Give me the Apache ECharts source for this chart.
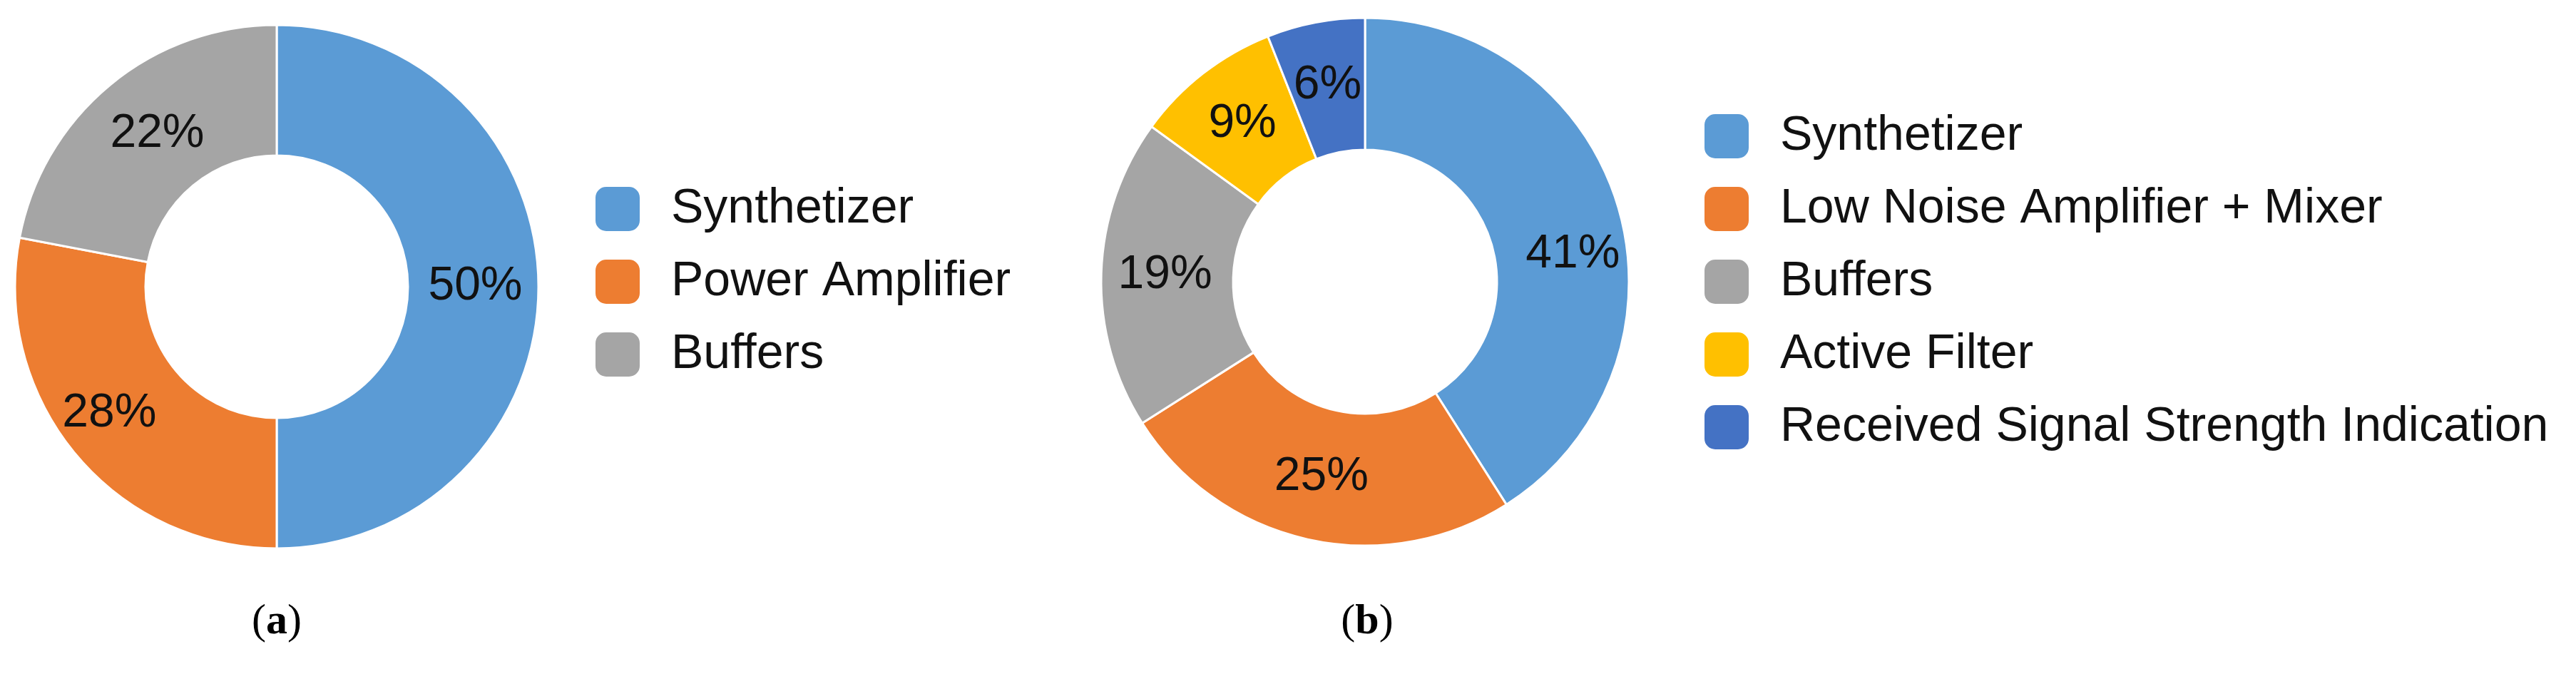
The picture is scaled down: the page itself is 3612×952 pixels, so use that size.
<!DOCTYPE html>
<html><head><meta charset="utf-8">
<script src="https://cdn.jsdelivr.net/npm/echarts@6/dist/echarts.min.js"></script>
<style>html,body{margin:0;padding:0;background:#fff}#c{width:3612px;height:952px}</style>
</head><body><div id="c"></div>
<script>
const categoriesA = ['Synthetizer', 'Power Amplifier', 'Buffers'];
const valuesA = [50, 28, 22];
const categoriesB = ['Synthetizer', 'Low Noise Amplifier + Mixer', 'Buffers', 'Active Filter', 'Received Signal Strength Indication'];
const valuesB = [41, 25, 19, 9, 6];
const captions = ['a', 'b'];
const colorsA = ['#5B9BD5', '#ED7D31', '#A5A5A5'];
const colorsB = ['#5B9BD5', '#ED7D31', '#A5A5A5', '#FFC000', '#4472C4'];

const FONT = 'Liberation Sans, Arial, sans-serif';
const chart = echarts.init(document.getElementById('c'), null, {renderer: 'canvas'});

function pieSeries(cats, vals, cols, center, radius, labelTweaks) {
  return {
    type: 'pie',
    center: center,
    radius: radius,
    startAngle: 90,
    clockwise: true,
    avoidLabelOverlap: false,
    animation: false,
    itemStyle: {borderColor: '#fff', borderWidth: 3},
    label: {show: true, position: 'inside', formatter: '{c}%', fontSize: 66, color: '#111', fontFamily: FONT, textBorderWidth: 0},
    labelLine: {show: false},
    emphasis: {disabled: true},
    data: cats.map((n, i) => {
      const d = {name: n, value: vals[i], itemStyle: {color: cols[i]}};
      if (labelTweaks && labelTweaks[i]) d.label = {offset: labelTweaks[i]};
      return d;
    })
  };
}

function legend(cats, left, top) {
  return {
    orient: 'vertical', left: left, top: top,
    itemWidth: 64, itemHeight: 64, itemGap: 34,
    icon: 'roundRect',
    selectedMode: false,
    textStyle: {fontSize: 68, lineHeight: 64, fontFamily: FONT, color: '#111', padding: [0, 0, 0, 38]},
    data: cats
  };
}

function caption(letter, x, y) {
  return {
    type: 'text', x: x, y: y,
    style: {
      text: '{p|(}{b|' + letter + '}{p|)}',
      align: 'center', verticalAlign: 'middle',
      rich: {
        p: {fontSize: 60, fontFamily: 'Liberation Serif, serif', color: '#000'},
        b: {fontSize: 60, fontFamily: 'Liberation Serif, serif', fontWeight: 'bold', color: '#000'}
      }
    }
  };
}

chart.setOption({
  backgroundColor: '#fff',
  animation: false,
  legend: [legend(categoriesA, 828, 254), legend(categoriesB, 2383, 152)],
  series: [
    pieSeries(categoriesA, valuesA, colorsA, [388, 402], [184, 367], [null, [-20, 0], [10, 0]]),
    pieSeries(categoriesB, valuesB, colorsB, [1914, 395], [185, 370], [[22, 40]])
  ],
  graphic: [caption(captions[0], 388, 872), caption(captions[1], 1917, 872)]
});
</script>
</body></html>
